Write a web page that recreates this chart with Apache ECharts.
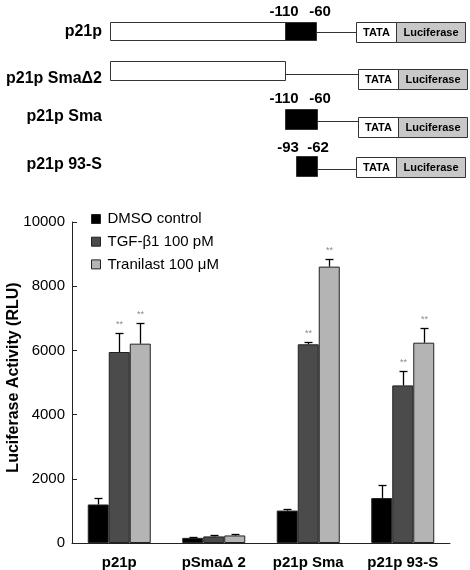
<!DOCTYPE html>
<html>
<head>
<meta charset="utf-8">
<script src="https://cdn.jsdelivr.net/npm/echarts@6/dist/echarts.min.js"></script>
<style>html,body{margin:0;padding:0;background:#fff}#c{width:470px;height:570px}</style>
</head>
<body>
<div id="c"></div>
<script>
// ---- data ----
const categories = ['p21p', 'pSma\u0394 2', 'p21p Sma', 'p21p 93-S'];
const seriesNames = ['DMSO control', 'TGF-\u03b21 100 pM', 'Tranilast 100 \u03bcM'];
const dmso = [1200, 160, 1010, 1400];
const dmsoErr = [200, 20, 50, 400];
const tgf = [5950, 205, 6190, 4910];
const tgfErr = [600, 40, 60, 440];
const tran = [6210, 235, 8610, 6240];
const tranErr = [640, 40, 250, 460];
const dmsoSig = ['', '', '', ''];
const tgfSig = ['**', '', '**', '**'];
const tranSig = ['**', '', '**', '**'];
const yTicks = [0, 2000, 4000, 6000, 8000, 10000];

// diagram content
const constructNames = ['p21p', 'p21p Sma\u03942', 'p21p Sma', 'p21p 93-S'];
const siteLabels = [['-110', '-60'], [], ['-110', '-60'], ['-93', '-62']];

const FONT = '"Liberation Sans", Arial, Helvetica, sans-serif';
const colors = ['#000000', '#4b4b4b', '#b4b4b4'];
const values = [dmso, tgf, tran];
const errs = [dmsoErr, tgfErr, tranErr];
const sigs = [dmsoSig, tgfSig, tranSig];
const BARW = 21;

const chart = echarts.init(document.getElementById('c'), null, {renderer: 'canvas'});

// ---- diagram graphics ----
const g = [];
const stroke = '#333';
function rect(x, y, w, h, fill) {
  g.push({type: 'rect', shape: {x: x, y: y, width: w, height: h}, style: {fill: fill, stroke: stroke, lineWidth: 1}});
}
function line(x1, y1, x2, y2) {
  g.push({type: 'line', shape: {x1: x1, y1: y1, x2: x2, y2: y2}, style: {stroke: stroke, lineWidth: 1}});
}
function text(t, x, y, size, align, bold) {
  g.push({type: 'text', x: x, y: y, style: {text: t, fill: '#000', font: (bold ? 'bold ' : '') + size + 'px ' + FONT, textAlign: align, textVerticalAlign: 'middle'}});
}
function reporter(x, y) {
  rect(x, y, 40, 20, '#ffffff');
  rect(x + 40, y, 69, 20, '#c8c8c8');
  text('TATA', x + 20, y + 10.5, 11, 'center', true);
  text('Luciferase', x + 40 + 34.5, y + 10.5, 11, 'center', true);
}
const rowLabelY = [32, 79, 117, 165];
// row 1
rect(110.5, 22.5, 175, 18, '#ffffff');
rect(285.5, 22.5, 31, 18, '#000000');
line(316.5, 32.5, 356.5, 32.5);
reporter(356.5, 22.5);
// row 2
rect(110.5, 61.5, 175, 19, '#ffffff');
line(285.5, 74.5, 358.5, 74.5);
reporter(358.5, 69.5);
// row 3
rect(285.5, 109.5, 32, 20, '#000000');
line(317.5, 121.5, 358.5, 121.5);
reporter(358.5, 117.5);
// row 4
rect(296.5, 156.5, 21, 20, '#000000');
line(317.5, 169.5, 356.5, 169.5);
reporter(356.5, 157.5);
// labels
constructNames.forEach((n, i) => text(n, 102, rowLabelY[i], 16, 'right', true));
const siteX = [[284, 320], [], [284, 320], [288, 318]];
const siteY = [12, 0, 99, 148];
siteLabels.forEach((arr, i) => arr.forEach((s, j) => text(s, siteX[i][j], siteY[i], 15, 'center', true)));

// ---- chart series ----
const series = [];
values.forEach((v, k) => {
  series.push({
    name: seriesNames[k], type: 'bar', data: v, barWidth: BARW, barGap: '0%',
    itemStyle: {color: colors[k], borderColor: '#222', borderWidth: 1},
    emphasis: {disabled: true}, z: 2
  });
});
values.forEach((v, k) => {
  series.push({
    name: 'err' + k, type: 'custom', z: 5, silent: true,
    data: v.map((val, i) => [i, val, errs[k][i]]),
    encode: {x: 0, y: 1},
    renderItem: function (params, api) {
      const i = api.value(0), val = api.value(1), e = api.value(2);
      const base = api.coord([i, val]);
      const top = api.coord([i, val + e]);
      const x = Math.round(base[0] + (k - 1) * BARW) + 0.5;
      const yt = Math.round(top[1]) + 0.5;
      const children = [
        {type: 'line', shape: {x1: x, y1: base[1], x2: x, y2: yt}, style: {stroke: '#000', lineWidth: 1.3}},
        {type: 'line', shape: {x1: x - 4, y1: yt, x2: x + 4, y2: yt}, style: {stroke: '#000', lineWidth: 1.3}}
      ];
      const s = sigs[k][params.dataIndex];
      if (s) {
        children.push({type: 'text', x: x, y: yt - 9, style: {text: s, fill: '#8a8a8a', font: '9px ' + FONT, textAlign: 'center', textVerticalAlign: 'middle'}});
      }
      return {type: 'group', children: children};
    }
  });
});

chart.setOption({
  animation: false,
  backgroundColor: '#fff',
  textStyle: {fontFamily: FONT},
  graphic: g,
  legend: {
    data: seriesNames, orient: 'vertical', left: 86, top: 205,
    itemWidth: 9, itemHeight: 9, itemGap: 4.7, icon: 'rect',
    selectedMode: false,
    itemStyle: {borderColor: '#222', borderWidth: 1},
    textStyle: {fontSize: 15, color: '#000', fontFamily: FONT, lineHeight: 18, padding: [0, 0, 0, 2]}
  },
  grid: {left: 72, right: 20, top: 222, bottom: 27, containLabel: false, outerBoundsMode: 'none'},
  xAxis: {
    type: 'category', data: categories,
    axisLine: {lineStyle: {color: '#222', width: 1}},
    axisTick: {inside: true, length: 4, lineStyle: {color: '#222'}},
    axisLabel: {interval: 0, fontSize: 15, fontWeight: 'bold', color: '#000', margin: 12, fontFamily: FONT}
  },
  yAxis: {
    type: 'value', min: yTicks[0], max: yTicks[yTicks.length - 1], interval: yTicks[1] - yTicks[0],
    name: 'Luciferase Activity (RLU)', nameLocation: 'middle', nameGap: 50, nameMoveOverlap: false,
    nameTextStyle: {fontSize: 16, fontWeight: 'bold', color: '#000', fontFamily: FONT, padding: [0, 0, 0, 10]},
    axisLine: {show: true, lineStyle: {color: '#222', width: 1}},
    axisTick: {show: true, inside: true, length: 5, lineStyle: {color: '#222'}},
    splitLine: {show: false},
    axisLabel: {fontSize: 15, color: '#000', margin: 7, fontFamily: FONT, formatter: v => String(v)}
  },
  series: series
});
</script>
</body>
</html>
